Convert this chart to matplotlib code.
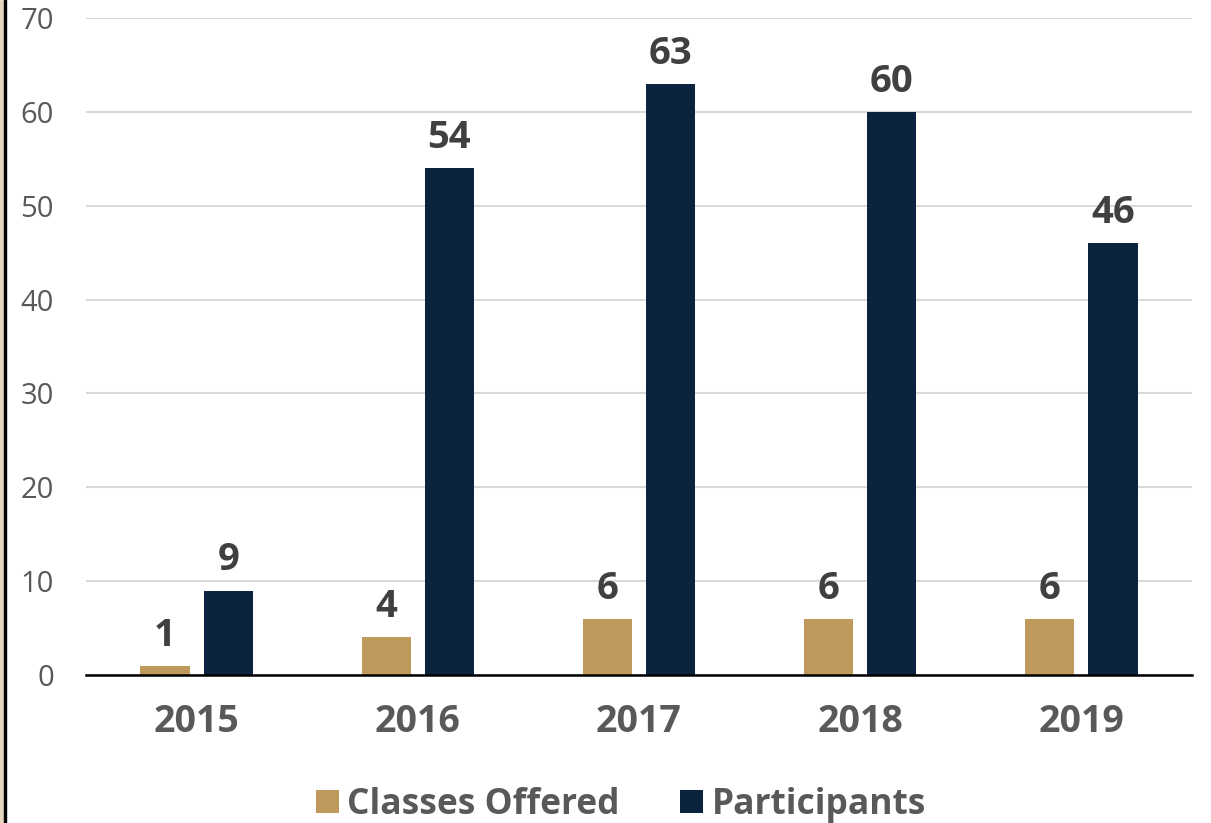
import matplotlib
matplotlib.use("Agg")
import matplotlib.pyplot as plt
import numpy as np
from matplotlib.patches import Rectangle

years = ["2015", "2016", "2017", "2018", "2019"]
classes_offered = [1, 4, 6, 6, 6]
participants = [9, 54, 63, 60, 46]
series_names = ["Classes Offered", "Participants"]
y_ticks = [0, 10, 20, 30, 40, 50, 60, 70]

TAN = "#C09A5C"
NAVY = "#0C2340"
FONT = "Open Sans"

fig = plt.figure(figsize=(12.11, 8.23), dpi=100)
ax = fig.add_axes([86/1211, 1-675/823, (1192-86)/1211, (675-18)/823])

x = np.arange(len(years))
w = 0.222
off = 0.143
b1 = ax.bar(x - off, classes_offered, w, color=TAN, label=series_names[0], zorder=3)
b2 = ax.bar(x + off, participants, w, color=NAVY, label=series_names[1], zorder=3)

for bars in (b1, b2):
    for r in bars:
        ax.annotate(f"{int(r.get_height())}", (r.get_x() + r.get_width()/2, r.get_height()),
                    xytext=(0, 8), textcoords="offset points", ha="center", va="bottom",
                    fontsize=27.5, fontweight="bold", color="#404040", family=FONT)

ax.set_xlim(-0.5, 4.5)
ax.set_ylim(0, 70)
ax.set_yticks(y_ticks)
ax.set_yticklabels([str(t) for t in y_ticks], fontsize=21, color="#595959", family=FONT)
ax.set_xticks(x)
ax.set_xticklabels(years, fontsize=27, fontweight="bold", color="#595959", family=FONT)
ax.tick_params(axis="both", length=0)
ax.tick_params(axis="y", pad=23)
ax.tick_params(axis="x", pad=20)
ax.yaxis.grid(True, color="#D9D9D9", linewidth=1.5, zorder=0)
for s in ["top", "right", "left"]:
    ax.spines[s].set_visible(False)
ax.spines["bottom"].set_color("#000000")
ax.spines["bottom"].set_linewidth(1.8)
ax.spines["bottom"].set_zorder(4)

leg = fig.legend(handles=[b1, b2], labels=series_names, loc="center",
                 bbox_to_anchor=(621/1211, 1-805/823), ncol=2, frameon=False,
                 prop={"family": FONT, "weight": "bold", "size": 25.5},
                 handlelength=0.65, handleheight=0.65, handletextpad=0.25, columnspacing=1.7)
for t in leg.get_texts():
    t.set_color("#595959")

fig.patches.append(Rectangle((0, 0), 4/1211, 1, transform=fig.transFigure, color="#E6D8BF", zorder=10))
fig.patches.append(Rectangle((4/1211, 0), 2.2/1211, 1, transform=fig.transFigure, color="#000000", zorder=10))

fig.savefig("out.png", dpi=100)
